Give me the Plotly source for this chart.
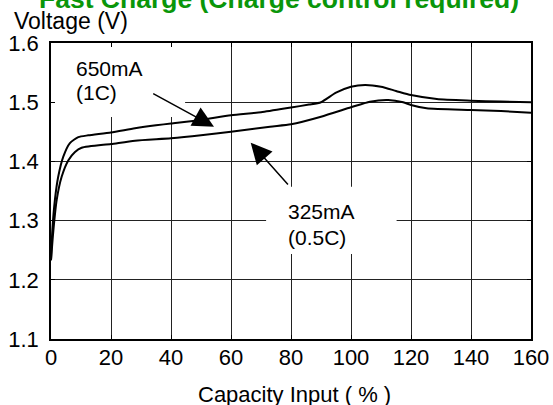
import plotly.graph_objects as go

# Data
cap_1c = [0, 0.45, 1.3, 2.4, 4.1, 6.3, 9.1, 12.4, 20, 28, 35, 40, 50, 60, 70, 80, 86, 90, 95, 100, 104.7, 110, 115, 120, 128.6, 140, 150, 160]
volt_1c = [1.233, 1.284, 1.335, 1.374, 1.408, 1.431, 1.441, 1.444, 1.449, 1.456, 1.461, 1.464, 1.470, 1.478, 1.483, 1.491, 1.496, 1.500, 1.516, 1.526, 1.529, 1.526, 1.519, 1.512, 1.5054, 1.5026, 1.501, 1.4998]

cap_05c = [0, 0.8, 1.9, 3.55, 5.8, 8, 10.2, 20, 28, 40, 50, 60, 73, 80, 90, 100, 106.3, 112.4, 117.4, 120, 125.2, 140, 150, 160]
volt_05c = [1.233, 1.284, 1.335, 1.374, 1.402, 1.416, 1.423, 1.4294, 1.435, 1.439, 1.444, 1.450, 1.4587, 1.4627, 1.4755, 1.4914, 1.5009, 1.5037, 1.4998, 1.4953, 1.4897, 1.4868, 1.485, 1.4823]

x_ticks = [0, 20, 40, 60, 80, 100, 120, 140, 160]
y_ticks = [1.1, 1.2, 1.3, 1.4, 1.5, 1.6]

title_text = "Fast Charge (Charge control required)"
y_title = "Voltage (V)"
x_title = "Capacity Input ( % )"

FONT = "Liberation Sans, Arial, sans-serif"

fig = go.Figure()
for xs, ys in [(cap_1c, volt_1c), (cap_05c, volt_05c)]:
    fig.add_trace(go.Scatter(x=xs, y=ys, mode="lines",
                             line=dict(color="black", width=2, shape="spline", smoothing=0.6),
                             showlegend=False, hoverinfo="skip"))

# white label backgrounds that interrupt the grid
fig.add_shape(type="rect", xref="x", yref="y", x0=0, x1=44.7, y0=1.475, y1=1.6,
              fillcolor="white", line=dict(width=0), layer="between")
fig.add_shape(type="rect", xref="x", yref="y", x0=71.7, x1=115.2, y0=1.2436, y1=1.3573,
              fillcolor="white", line=dict(width=0), layer="between")

lab_font = dict(family=FONT, size=21, color="black")
for txt, xx, yy in [("650mA", 7.67, 1.5573), ("(1C)", 7.67, 1.5164),
                    ("325mA", 78.2, 1.315), ("(0.5C)", 78.2, 1.2715)]:
    fig.add_annotation(x=xx, y=yy, xref="x", yref="y", text=txt, showarrow=False,
                       xanchor="left", yanchor="middle", font=lab_font)

for (tx, ty), (hx, hy) in [((33.57, 1.516), (54.33, 1.4586)), ((79.43, 1.3584), (66.57, 1.4316))]:
    fig.add_annotation(x=hx, y=hy, ax=tx, ay=ty, xref="x", yref="y", axref="x", ayref="y",
                       text="", showarrow=True, arrowhead=2, arrowsize=2.8, arrowwidth=1.5,
                       arrowcolor="black", standoff=0)

fig.add_annotation(x=0.476, y=1.1486, xref="paper", yref="paper", text="<b>%s</b>" % title_text,
                   showarrow=False, xanchor="center", yanchor="middle",
                   font=dict(family=FONT, size=26.5, color="#0a960a"))
fig.add_annotation(x=-0.08125, y=1.076, xref="paper", yref="paper", text=y_title,
                   showarrow=False, xanchor="left", yanchor="middle",
                   font=dict(family=FONT, size=23, color="black"))
fig.add_annotation(x=0.50625, y=-0.186, xref="paper", yref="paper", text=x_title,
                   showarrow=False, xanchor="center", yanchor="middle",
                   font=dict(family=FONT, size=22, color="black"))

axis_common = dict(showline=True, linecolor="black", linewidth=1.5, mirror="ticks",
                   ticks="inside", ticklen=4, tickcolor="black", tickwidth=1,
                   showgrid=True, gridcolor="#222", gridwidth=1, zeroline=False,
                   automargin=False,
                   tickfont=dict(family=FONT, size=22, color="black"))
fig.update_xaxes(range=[0, 160], tickvals=x_ticks, ticktext=[str(v) for v in x_ticks],
                 ticklabelstandoff=-2, **axis_common)
fig.update_yaxes(range=[1.1, 1.6], tickvals=y_ticks, ticktext=["%.1f" % v for v in y_ticks],
                 ticklabelstandoff=6, **axis_common)

fig.update_layout(width=553, height=405, margin=dict(l=51, r=22, t=43, b=66),
                  paper_bgcolor="white", plot_bgcolor="white", template="none",
                  font=dict(family=FONT, color="black"))

fig.write_html("out.html", config={"displayModeBar": False},
               post_script="document.body.style.margin='0';document.body.style.overflow='hidden';")
